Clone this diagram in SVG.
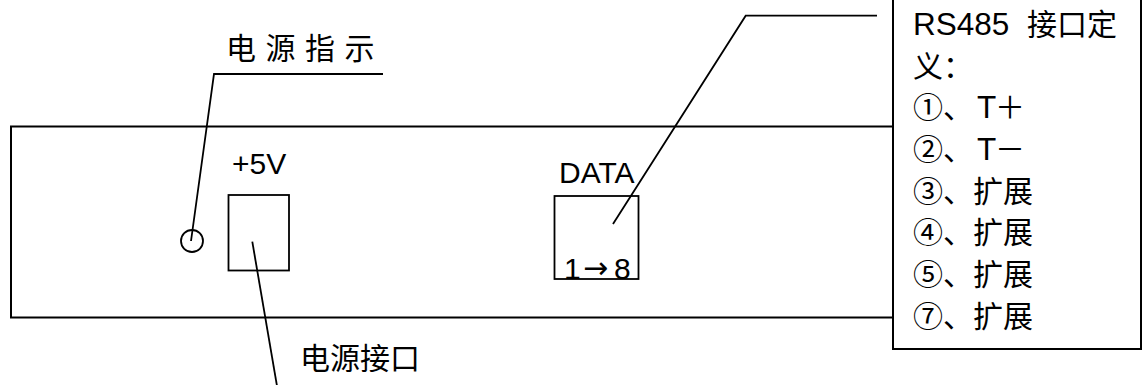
<svg xmlns="http://www.w3.org/2000/svg" width="1146" height="385" viewBox="0 0 1146 385">
<style>
.ln{fill:none;stroke:#000;stroke-width:1.8}
.bx{fill:#fff;stroke:#000;stroke-width:2}
.lat{font-family:"Liberation Sans",Arial,sans-serif;font-size:30px;fill:#000}
.cjk{font-family:"Liberation Sans","Noto Sans CJK SC",sans-serif;font-size:30px;fill:#000}
</style>
<rect width="1146" height="385" fill="#fff"/>
<g id="panel">
<rect class="bx" x="11" y="126.5" width="1125" height="191"/>
</g>
<g id="power-led">
<circle class="ln" cx="192" cy="241" r="11"/>
</g>
<g id="power-port">
<rect class="ln" x="228.5" y="195" width="60.5" height="75.5"/>
<text class="lat" x="232" y="174" font-size="31">+5V</text>
</g>
<g id="data-port">
<rect class="ln" x="554.5" y="196" width="84" height="83"/>
<text class="lat" x="559" y="182.5" font-size="30.5">DATA</text>
<text class="lat" y="279"><tspan x="564">1</tspan><tspan x="583" font-family="DejaVu Sans" font-size="30" dy="-1">→</tspan><tspan x="614" dy="1">8</tspan></text>
</g>
<g id="label-power-indicator">
<text class="cjk" x="226" y="59" letter-spacing="9.5">电源指示</text>
</g>
<g id="label-power-interface">
<text class="cjk" x="300" y="369">电源接口</text>
</g>
<g id="rs485-box">
<rect class="bx" x="893" y="-3" width="248" height="352"/>
<text class="cjk">
<tspan x="913" y="35" font-size="31.5">RS485</tspan><tspan x="1027" y="35">接口定</tspan>
<tspan x="913" y="76.5">义：</tspan>
<tspan x="913" y="118">①、</tspan><tspan x="977" y="118" font-size="31.5">T</tspan><tspan x="995" y="118">＋</tspan>
<tspan x="913" y="160">②、</tspan><tspan x="977" y="160" font-size="31.5">T</tspan><tspan x="995" y="160">－</tspan>
<tspan x="913" y="201.5">③、扩展</tspan>
<tspan x="913" y="243">④、扩展</tspan>
<tspan x="913" y="285">⑤、扩展</tspan>
<tspan x="913" y="326.5">⑦、扩展</tspan>
</text>
</g>
<g id="connectors">
<polyline class="ln" points="383,74 214,74 191,241"/>
<polyline class="ln" points="877,15.7 745.7,15.7 613,224"/>
<line class="ln" x1="252.3" y1="241.7" x2="277" y2="386"/>
</g>
</svg>
